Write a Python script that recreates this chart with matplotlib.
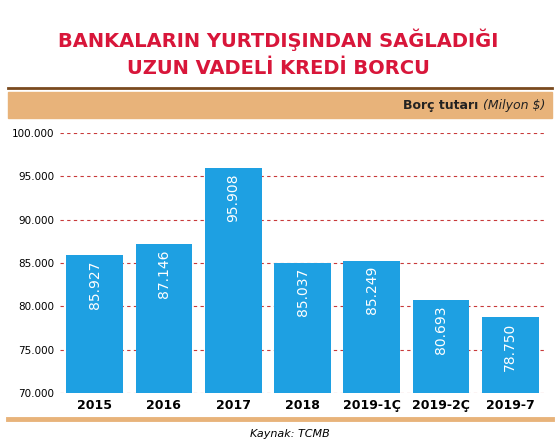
import matplotlib.pyplot as plt
from matplotlib.patches import Rectangle
from matplotlib.lines import Line2D

categories = ["2015", "2016", "2017", "2018", "2019-1Ç", "2019-2Ç", "2019-7"]
values = [85927, 87146, 95908, 85037, 85249, 80693, 78750]
value_labels = ["85.927", "87.146", "95.908", "85.037", "85.249", "80.693", "78.750"]
yticks = [70000, 75000, 80000, 85000, 90000, 95000, 100000]
ytick_labels = ["70.000", "75.000", "80.000", "85.000", "90.000", "95.000", "100.000"]

BLUE = "#1ea0e2"
TAN = "#e8b37a"
BROWN = "#7a4a1e"
RED = "#d8163a"

fig = plt.figure(figsize=(5.57, 4.44), dpi=100)
W, H = 557, 444


def fx(px):
    return px / W


def fy(py):
    return 1 - py / H


fig.text(0.5, fy(40), "BANKALARIN YURTDIŞINDAN SAĞLADIĞI", ha="center", va="center",
         color=RED, fontsize=14, fontweight="bold")
fig.text(0.5, fy(68), "UZUN VADELİ KREDİ BORCU", ha="center", va="center",
         color=RED, fontsize=14, fontweight="bold")
fig.add_artist(Line2D([fx(8), fx(552)], [fy(88), fy(88)], color=BROWN, lw=2))
fig.add_artist(Rectangle((fx(8), fy(118)), fx(544), 26 / H, color=TAN, zorder=0))
fig.text(fx(478), fy(106), "Borç tutarı", ha="right", va="center", fontsize=9,
         fontweight="bold", color="#222222")
fig.text(fx(545), fy(106), "(Milyon $)", ha="right", va="center", fontsize=9,
         style="italic", color="#222222")

ax = fig.add_axes([fx(60), fy(393), fx(485), (393 - 133) / H])
x = range(len(categories))
ax.bar(x, values, width=0.82, color=BLUE, zorder=2)
for i, (v, lab) in enumerate(zip(values, value_labels)):
    ax.text(i, v - 600, lab, rotation=90, ha="center", va="top", color="white", fontsize=10)

ax.set_ylim(70000, 100000)
ax.set_xlim(-0.5, 6.5)
ax.set_yticks(yticks)
ax.set_yticklabels(ytick_labels, fontsize=7.5)
ax.set_xticks(list(x))
ax.set_xticklabels(categories, fontsize=9, fontweight="bold")
ax.tick_params(axis="both", length=0, pad=4)
ax.grid(axis="y", color="#c83a3a", ls=(0, (3, 3)), lw=0.8, zorder=1)
for s in ax.spines.values():
    s.set_visible(False)
ax.set_facecolor("none")

fig.add_artist(Line2D([fx(8), fx(552)], [fy(419), fy(419)], color=TAN, lw=3.5))
fig.text(fx(290), fy(434), "Kaynak: TCMB", ha="center", va="center", fontsize=8, style="italic")

fig.savefig("out.png", dpi=100)
